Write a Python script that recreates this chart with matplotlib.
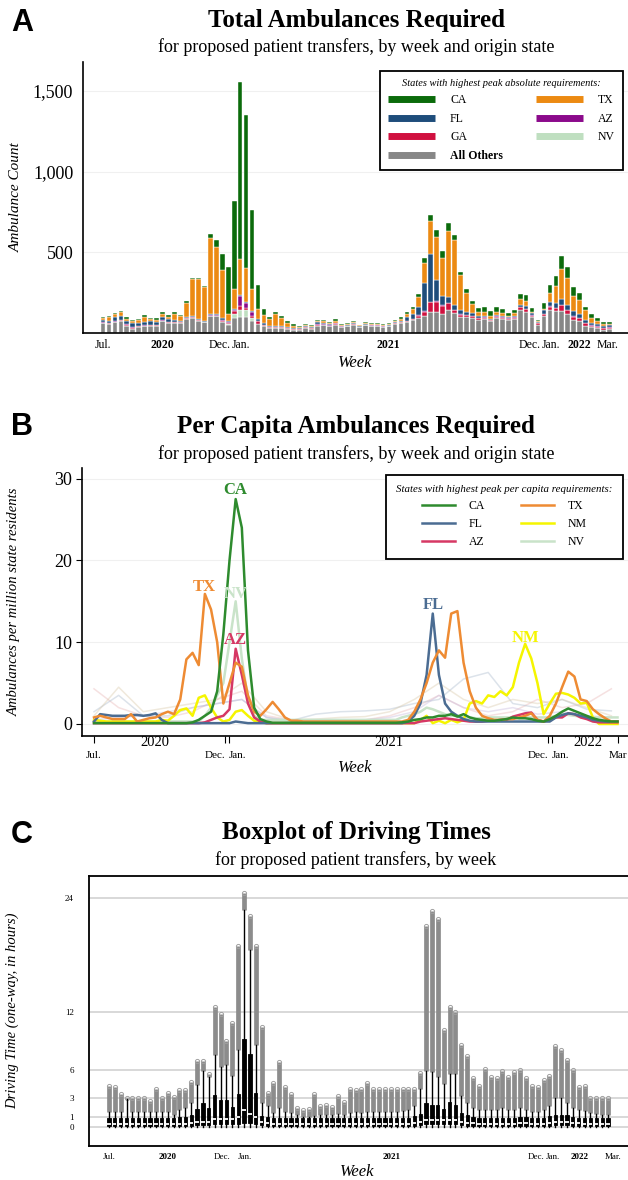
import numpy as np
import matplotlib.pyplot as plt
from matplotlib.lines import Line2D

plt.rcParams['font.family'] = ['Liberation Serif', 'DejaVu Serif']

weeks = np.arange(86)

# ---- panel A: ambulances by week, stacked by origin state ----
others = [60, 58, 66, 77, 46, 27, 37, 41, 46, 46, 72, 62, 62, 64, 87, 93, 75, 66, 104, 104,
          66, 50, 95, 97, 97, 72, 58, 41, 29, 33, 31, 25, 21, 19, 33, 27, 46, 48, 41, 52,
          37, 41, 50, 35, 48, 43, 43, 37, 41, 56, 62, 66, 79, 95, 108, 130, 130, 120, 141, 124,
          97, 97, 95, 83, 87, 72, 93, 87, 83, 87, 145, 130, 97, 52, 108, 141, 135, 135, 120, 83,
          75, 46, 37, 31, 21, 25]
nv = [0, 0, 0, 0, 0, 0, 0, 0, 0, 0, 0, 0, 0, 0, 2, 0, 0, 0, 0, 0,
      3, 5, 25, 48, 43, 21, 0, 0, 0, 0, 0, 0, 0, 0, 0, 0, 0, 0, 0, 0,
      0, 0, 0, 0, 0, 0, 0, 0, 0, 0, 0, 0, 0, 0, 0, 0, 0, 0, 0, 0,
      0, 0, 0, 0, 0, 0, 0, 0, 0, 0, 0, 0, 0, 0, 0, 0, 0, 0, 0, 0,
      0, 0, 0, 0, 0, 0]
ga = [4, 3, 4, 4, 4, 5, 4, 5, 4, 3, 4, 4, 6, 4, 4, 4, 3, 3, 4, 4,
      8, 8, 14, 21, 14, 14, 14, 8, 6, 4, 4, 4, 4, 3, 3, 4, 6, 4, 4, 4,
      3, 3, 4, 3, 2, 3, 3, 3, 3, 4, 4, 6, 6, 12, 24, 60, 62, 50, 43, 18,
      16, 14, 9, 8, 8, 8, 6, 8, 6, 8, 14, 16, 11, 7, 9, 22, 18, 38, 22, 18,
      16, 14, 9, 7, 9, 7]
az = [2, 2, 2, 2, 3, 3, 3, 3, 2, 2, 2, 2, 3, 2, 2, 3, 2, 2, 4, 3,
      5, 6, 10, 66, 35, 21, 3, 2, 3, 2, 2, 2, 2, 2, 2, 2, 5, 4, 4, 3,
      2, 2, 4, 2, 2, 2, 2, 2, 2, 3, 3, 4, 2, 3, 3, 4, 4, 4, 3, 3,
      3, 3, 3, 4, 4, 3, 4, 4, 4, 4, 3, 3, 3, 3, 3, 3, 3, 3, 3, 3,
      3, 3, 3, 3, 3, 3]
fl = [12, 14, 25, 25, 22, 24, 20, 22, 20, 20, 24, 18, 8, 6, 4, 5, 4, 5, 5, 4,
      10, 8, 4, 6, 6, 6, 10, 10, 7, 6, 6, 6, 6, 5, 5, 6, 10, 6, 6, 5,
      3, 5, 6, 4, 2, 4, 4, 4, 4, 4, 7, 21, 33, 54, 172, 298, 135, 58, 39, 27,
      25, 17, 17, 8, 8, 6, 8, 8, 4, 6, 10, 17, 12, 6, 21, 29, 31, 35, 29, 31,
      23, 17, 12, 12, 12, 14]
tx = [15, 20, 22, 20, 14, 14, 14, 28, 14, 12, 18, 16, 40, 30, 90, 230, 248, 212, 470, 417,
      296, 40, 124, 221, 207, 138, 66, 52, 42, 75, 50, 25, 12, 8, 4, 4, 8, 10, 8, 12,
      4, 4, 6, 4, 6, 6, 5, 5, 5, 8, 12, 23, 29, 60, 124, 201, 265, 236, 406, 402,
      217, 118, 58, 27, 25, 18, 17, 16, 10, 16, 41, 35, 6, 4, 10, 54, 103, 188, 168, 93,
      85, 60, 35, 21, 8, 6]
ca = [8, 8, 8, 10, 8, 8, 10, 10, 10, 8, 10, 8, 10, 8, 8, 6, 6, 6, 25, 42,
      100, 292, 544, 1097, 950, 492, 147, 37, 12, 12, 15, 15, 10, 8, 6, 6, 6, 10, 8, 8,
      4, 4, 6, 4, 6, 6, 5, 5, 5, 8, 10, 10, 12, 17, 31, 39, 41, 39, 48, 35,
      21, 21, 17, 25, 29, 27, 35, 27, 17, 21, 29, 33, 25, 10, 35, 48, 66, 77, 68, 58,
      43, 23, 21, 19, 17, 14]

# ---- panel B: per capita ambulances (per million residents) ----
ca_pc = [0.1, 0.1, 0.1, 0.1, 0.1, 0.1, 0.1, 0.1, 0.1, 0.1, 0.1, 0.1, 0.1, 0.1, 0.1, 0.1, 0.2, 0.5, 1.0, 1.5,
         4.0, 11.0, 20.0, 27.5, 24.0, 9.0, 2.0, 0.6, 0.3, 0.15, 0.15, 0.15, 0.15, 0.15, 0.15, 0.15, 0.15, 0.15, 0.15, 0.15,
         0.15, 0.15, 0.15, 0.15, 0.15, 0.15, 0.15, 0.15, 0.15, 0.15, 0.2, 0.3, 0.5, 0.6, 0.8, 0.8, 1.0, 1.0, 1.2, 0.9,
         1.2, 0.8, 0.6, 0.5, 0.4, 0.4, 0.5, 0.6, 0.8, 0.7, 0.7, 0.6, 0.4, 0.3, 0.6, 1.0, 1.5, 1.9, 1.6, 1.3,
         1.0, 0.7, 0.5, 0.4, 0.3, 0.3]
tx_pc = [0.8, 1.0, 0.8, 0.6, 0.6, 0.6, 1.2, 0.3, 0.5, 0.7, 0.8, 1.2, 1.5, 1.2, 3.0, 7.9, 8.7, 7.2, 15.9, 14.0,
         10.0, 2.5, 5.0, 7.5, 7.0, 3.5, 1.5, 1.0, 1.8, 2.7, 1.8, 0.8, 0.4, 0.4, 0.3, 0.3, 0.3, 0.3, 0.3, 0.3,
         0.3, 0.3, 0.3, 0.3, 0.3, 0.3, 0.3, 0.3, 0.3, 0.3, 0.3, 0.5, 1.5, 3.0, 5.0, 7.5, 9.0, 8.1, 13.5, 13.8,
         7.5, 4.0, 2.0, 1.0, 0.7, 0.5, 0.5, 0.6, 0.6, 0.8, 1.0, 1.3, 0.5, 0.3, 1.0, 2.5, 4.5, 6.4, 5.8, 3.0,
         2.8, 1.8, 1.2, 0.7, 0.3, 0.3]
fl_pc = [0.3, 1.2, 1.1, 1.0, 1.0, 1.0, 1.1, 1.1, 1.0, 1.1, 1.3, 0.5, 0.1, 0.1, 0.1, 0.1, 0.1, 0.1, 0.1, 0.1,
         0.1, 0.1, 0.1, 0.3, 0.2, 0.1, 0.1, 0.1, 0.1, 0.1, 0.1, 0.1, 0.1, 0.1, 0.1, 0.1, 0.1, 0.1, 0.1, 0.1,
         0.1, 0.1, 0.1, 0.1, 0.1, 0.1, 0.1, 0.1, 0.1, 0.1, 0.1, 0.3, 1.0, 2.5, 6.0, 13.5, 6.0, 2.5, 1.5, 1.0,
         0.6, 0.4, 0.3, 0.3, 0.3, 0.3, 0.3, 0.3, 0.3, 0.3, 0.3, 0.3, 0.3, 0.3, 0.3, 0.8, 1.1, 1.3, 1.2, 1.0,
         0.8, 0.5, 0.4, 0.3, 0.3, 0.3]
az_pc = [0.1, 0.1, 0.1, 0.1, 0.1, 0.1, 0.1, 0.1, 0.1, 0.1, 0.1, 0.1, 0.1, 0.1, 0.1, 0.1, 0.1, 0.1, 0.2, 0.5,
         0.8, 1.0, 1.8, 9.2, 6.0, 2.5, 0.8, 0.3, 0.1, 0.1, 0.1, 0.1, 0.1, 0.1, 0.1, 0.1, 0.1, 0.1, 0.1, 0.1,
         0.1, 0.1, 0.1, 0.1, 0.1, 0.1, 0.1, 0.1, 0.1, 0.1, 0.1, 0.1, 0.1, 0.3, 0.4, 0.5, 0.6, 0.7, 0.6, 0.5,
         0.4, 0.3, 0.3, 0.3, 0.4, 0.4, 0.5, 0.5, 0.9, 1.1, 1.3, 1.4, 0.5, 0.3, 0.5, 0.8, 0.8, 1.3, 1.2, 0.8,
         0.6, 0.3, 0.2, 0.2, 0.2, 0.2]
nm_pc = [0.5, 0.4, 0.3, 0.3, 0.3, 0.3, 0.3, 0.3, 0.3, 0.3, 0.3, 0.5, 0.4, 1.0, 1.7, 1.9, 1.0, 3.2, 3.5, 2.0,
         0.8, 0.3, 0.5, 1.5, 1.7, 1.0, 0.4, 0.2, 0.1, 0.1, 0.1, 0.1, 0.1, 0.1, 0.1, 0.1, 0.1, 0.1, 0.1, 0.1,
         0.1, 0.1, 0.1, 0.1, 0.1, 0.1, 0.1, 0.1, 0.1, 0.1, 0.1, 0.1, 0.1, 0.5, 1.0, 0.1, 0.4, 0.1, 0.5, 0.2,
         0.5, 2.5, 2.8, 2.5, 3.5, 3.3, 4.0, 3.5, 4.5, 7.5, 9.8, 8.0, 5.0, 1.2, 2.5, 3.7, 3.8, 3.6, 3.2, 2.5,
         2.6, 0.8, 0.0, 0.0, 0.0, 0.0]
nv_pc = [0.3, 0.3, 0.3, 0.3, 0.3, 0.3, 0.3, 0.3, 0.3, 0.3, 0.3, 0.3, 0.3, 0.3, 0.3, 0.3, 0.3, 0.3, 1.0, 2.0,
         3.5, 5.0, 10.0, 15.0, 8.0, 3.0, 1.0, 0.5, 0.5, 0.5, 0.5, 0.5, 0.5, 0.5, 0.5, 0.5, 0.5, 0.5, 0.5, 0.5,
         0.5, 0.5, 0.5, 0.5, 0.5, 0.5, 0.5, 0.5, 0.5, 0.5, 0.8, 1.0, 1.2, 1.5, 2.0, 1.8, 1.5, 1.2, 1.0, 1.0,
         0.8, 0.8, 0.7, 0.7, 0.8, 0.8, 0.8, 0.8, 0.8, 0.8, 0.8, 0.8, 0.8, 0.8, 0.8, 1.0, 1.2, 1.1, 1.0, 0.9,
         0.8, 0.8, 0.8, 0.8, 0.8, 0.8]
# a few of the other states, drawn faintly (read every 4th week)
bg_weeks = [0, 4, 8, 12, 16, 20, 24, 28, 32, 36, 40, 44, 48, 52, 56, 60, 64, 68, 72, 76, 80, 84]
bg_a = [4.3, 2.0, 1.0, 0.8, 1.5, 3.0, 4.0, 1.0, 0.5, 0.3, 0.5, 0.5, 1.0, 2.0, 3.5, 2.0, 1.0, 1.5, 3.0, 2.0, 2.5, 4.3]
bg_b = [1.5, 3.5, 1.0, 1.0, 2.0, 2.5, 3.0, 0.8, 0.4, 1.2, 1.5, 1.6, 1.8, 2.5, 3.0, 5.5, 6.3, 2.5, 2.0, 3.0, 1.8, 1.6]
bg_c = [1.0, 4.5, 1.5, 2.0, 2.5, 3.0, 5.0, 1.5, 0.5, 0.6, 0.8, 0.9, 1.5, 3.0, 5.0, 3.0, 2.0, 3.0, 2.5, 3.0, 2.0, 1.0]
bg_d = [0.5, 0.8, 1.0, 1.5, 2.0, 2.5, 3.0, 0.8, 0.3, 0.3, 0.4, 0.5, 0.8, 1.5, 3.5, 2.0, 1.5, 2.0, 1.2, 1.5, 1.0, 0.8]

# ---- panel C: driving time box stats (hours) ----
q1 = [0.1, 0.1, 0.1, 0.1, 0.1, 0.1, 0.1, 0.1, 0.1, 0.1, 0.1, 0.1, 0.1, 0.1, 0.1, 0.2, 0.2, 0.2, 0.3, 0.3,
      0.3, 0.3, 0.3, 0.4, 0.4, 0.3, 0.2, 0.1, 0.1, 0.1, 0.1, 0.1, 0.1, 0.1, 0.1, 0.1, 0.1, 0.1, 0.1, 0.1,
      0.1, 0.1, 0.1, 0.1, 0.1, 0.1, 0.1, 0.1, 0.1, 0.1, 0.1, 0.1, 0.1, 0.2, 0.3, 0.3, 0.3, 0.3, 0.3, 0.3,
      0.2, 0.1, 0.1, 0.1, 0.1, 0.1, 0.1, 0.1, 0.1, 0.1, 0.1, 0.1, 0.1, 0.1, 0.1, 0.1, 0.2, 0.2, 0.2, 0.1,
      0.1, 0.1, 0.1, 0.1, 0.1, 0.1]
med = [0.35, 0.35, 0.35, 0.35, 0.35, 0.35, 0.35, 0.35, 0.35, 0.35, 0.35, 0.35, 0.35, 0.35, 0.4, 0.5, 0.5, 0.5, 0.8, 0.8,
       0.8, 0.8, 1.0, 1.8, 1.4, 1.0, 0.5, 0.4, 0.35, 0.35, 0.35, 0.35, 0.35, 0.35, 0.35, 0.35, 0.35, 0.35, 0.35, 0.35,
       0.35, 0.35, 0.35, 0.35, 0.35, 0.35, 0.35, 0.35, 0.35, 0.35, 0.35, 0.35, 0.4, 0.5, 0.75, 0.75, 0.75, 0.75, 0.75, 0.75,
       0.5, 0.4, 0.4, 0.35, 0.35, 0.35, 0.35, 0.35, 0.35, 0.35, 0.4, 0.4, 0.35, 0.35, 0.35, 0.4, 0.5, 0.5, 0.5, 0.4,
       0.4, 0.35, 0.35, 0.35, 0.35, 0.35]
q3 = [0.9, 0.9, 0.9, 0.9, 0.9, 0.9, 0.9, 0.9, 0.9, 0.9, 0.9, 0.9, 1.0, 1.0, 1.2, 1.9, 2.5, 2.0, 3.3, 2.8,
      2.8, 2.1, 3.5, 9.2, 7.6, 3.6, 1.1, 1.0, 0.9, 0.9, 0.9, 0.9, 0.9, 0.9, 0.9, 0.9, 0.9, 0.9, 0.9, 0.9,
      0.9, 0.9, 0.9, 0.9, 0.9, 0.9, 0.9, 0.9, 0.9, 0.9, 0.9, 0.9, 1.1, 1.4, 2.5, 2.3, 2.3, 1.9, 2.6, 2.3,
      1.5, 1.2, 1.0, 0.9, 0.9, 0.9, 0.9, 0.9, 0.9, 0.9, 1.0, 1.0, 0.9, 0.9, 0.9, 1.1, 1.3, 1.3, 1.2, 1.0,
      0.9, 0.9, 0.9, 0.9, 0.9, 0.9]
whi = [1.6, 1.6, 1.6, 2.9, 1.6, 1.6, 1.6, 1.6, 1.6, 1.6, 1.6, 1.2, 1.8, 2.0, 2.5, 4.4, 5.9, 5.2, 7.5, 6.3,
       6.5, 5.3, 8.1, 22.7, 18.5, 8.6, 2.5, 2.2, 1.5, 2.0, 1.6, 1.5, 1.2, 1.0, 1.0, 1.1, 1.2, 1.3, 1.2, 1.4,
       1.2, 1.5, 1.6, 1.5, 1.6, 1.6, 1.6, 1.6, 1.6, 1.6, 1.7, 1.8, 2.2, 4.0, 5.9, 5.8, 5.2, 4.5, 5.5, 5.5,
       3.2, 2.5, 2.0, 1.8, 1.8, 1.8, 1.8, 2.0, 1.8, 1.8, 2.0, 1.8, 1.6, 1.6, 1.8, 2.2, 3.0, 3.0, 2.5, 2.0,
       1.8, 1.7, 1.5, 1.4, 1.3, 1.2]
fmax = [4.3, 4.2, 3.4, 3.0, 3.0, 3.0, 3.0, 2.7, 4.0, 3.0, 3.6, 3.1, 3.9, 3.9, 4.7, 6.9, 6.9, 5.5, 12.6, 11.8,
        9.0, 10.9, 19.0, 24.5, 22.1, 19.0, 10.5, 3.6, 4.6, 6.8, 4.2, 3.5, 2.0, 1.8, 1.9, 3.5, 2.2, 2.3, 2.1, 3.2,
        2.6, 4.0, 3.9, 4.0, 4.6, 4.0, 4.0, 4.0, 4.0, 4.0, 4.0, 4.0, 4.0, 5.7, 21.1, 22.6, 21.8, 10.2, 12.6, 12.0,
        8.6, 7.4, 5.1, 4.3, 6.1, 5.2, 5.1, 5.9, 5.2, 5.8, 6.0, 5.1, 4.3, 4.2, 4.9, 5.3, 8.5, 8.1, 7.0, 6.0,
        4.2, 4.3, 3.0, 3.0, 3.0, 3.0]

month_labels_A = ['Jul.', '2020', 'Dec.', 'Jan.', '2021', 'Dec.', 'Jan.', '2022', 'Mar.']
years = ['2020', '2021', '2022']

W, H = 628, 1180
fig = plt.figure(figsize=(W / 100, H / 100), dpi=100)


def box(l, t, r, b):
    return [l / W, 1 - b / H, (r - l) / W, (b - t) / H]


def head(letter, y_letter, title, y_title, sub, y_sub):
    fig.text(22 / W, 1 - y_letter / H, letter, fontsize=22, fontweight='bold',
             family='Liberation Sans', ha='center', va='center')
    fig.text(356 / W, 1 - y_title / H, title, fontsize=18, fontweight='bold', ha='center', va='center')
    fig.text(356 / W, 1 - y_sub / H, sub, fontsize=13, ha='center', va='center')


# ================= A =================
axA = fig.add_axes(box(83, 62, 628, 333))
layers = [(others, '#878787', 'All Others'), (nv, '#bfdfc0', 'NV'), (ga, '#d0103f', 'GA'),
          (az, '#8b0a8b', 'AZ'), (fl, '#1e4d7b', 'FL'), (tx, '#ec8a12', 'TX'), (ca, '#0b6b0b', 'CA')]
bottom = np.zeros(len(weeks))
for vals, col, lab in layers:
    axA.bar(weeks, vals, bottom=bottom, width=0.8, color=col, edgecolor='white', linewidth=0.3)
    bottom += np.array(vals)
axA.set_xlim(-3.36, 88.1)
axA.set_ylim(0, 1680)
axA.set_yticks([500, 1000, 1500])
axA.set_yticklabels(['500', '1,000', '1,500'])
axA.set_xticks([0, 9.9, 19.5, 23.2, 47.8, 71.6, 75.2, 79.9, 84.7])
axA.set_xticklabels(month_labels_A)
for t in axA.get_xticklabels():
    if t.get_text() in years:
        t.set_fontweight('bold')
axA.tick_params(axis='x', length=0, pad=4, labelsize=8.5)
axA.tick_params(axis='y', length=0, pad=7, labelsize=13)
axA.grid(axis='y', color='#f0f0f0', lw=0.8)
axA.set_axisbelow(True)
for s in ['top', 'right']:
    axA.spines[s].set_visible(False)
for s in ['left', 'bottom']:
    axA.spines[s].set_linewidth(1.2)
axA.set_ylabel('Ambulance Count', style='italic', fontsize=11)
axA.yaxis.set_label_coords(-0.11, 0.5)
axA.set_xlabel('Week', style='italic', fontsize=12)
axA.xaxis.set_label_coords(0.5, -0.08)
colA = dict((lab, col) for vals, col, lab in layers)
orderA = ['CA', 'FL', 'GA', 'All Others', 'TX', 'AZ', 'NV']
hA = [Line2D([], [], color=colA[k], lw=5, solid_capstyle='butt') for k in orderA]
legA = axA.legend(hA, orderA, ncol=2, loc='upper right', bbox_to_anchor=(1.002, 0.99),
                  title='States with highest peak absolute requirements:',
                  title_fontproperties={'style': 'italic', 'size': 7.5}, fontsize=8.5,
                  fancybox=False, edgecolor='black', framealpha=1, handlelength=4,
                  handletextpad=1.25, columnspacing=2.8, labelspacing=0.55, borderpad=0.7)
legA.get_frame().set_linewidth(1.3)
for t in legA.get_texts():
    if t.get_text() == 'All Others':
        t.set_fontweight('bold')
head('A', 23, 'Total Ambulances Required', 20,
     'for proposed patient transfers, by week and origin state', 47)

# ================= B =================
axB = fig.add_axes(box(82, 468, 628, 736))
for vals, col in [(bg_a, '#e8b4b4'), (bg_b, '#a9b9cc'), (bg_c, '#d9c8a8'), (bg_d, '#c6b8dc')]:
    axB.plot(bg_weeks, vals, color=col, lw=1.1, alpha=0.4)
lines = [('NV', nv_pc, '#c9e3c9'), ('NM', nm_pc, '#f5f500'), ('AZ', az_pc, '#d63864'),
         ('FL', fl_pc, '#4b6c92'), ('TX', tx_pc, '#ee8b33'), ('CA', ca_pc, '#2e8b2e')]
colB = {}
for lab, vals, col in lines:
    axB.plot(weeks, vals, color=col, lw=1.8)
    colB[lab] = col
for lab, x, y in [('CA', 23, 28.6), ('TX', 17.9, 16.8), ('NV', 23, 15.9), ('AZ', 23, 10.3),
                  ('FL', 55.1, 14.6), ('NM', 70.1, 10.5)]:
    axB.text(x, y, lab, color=colB[lab], fontsize=12, fontweight='bold', ha='center', va='center')
axB.set_xlim(-1.95, 86.7)
axB.set_ylim(-1.47, 31.3)
axB.set_yticks([0, 10, 20, 30])
axB.set_xticks([0, 21.3, 21.9, 73.7, 74.4, 85])
axB.set_xticklabels(['Jul.', 'Dec.', 'Jan.', 'Dec.', 'Jan.', 'Mar'])
for t, ha in zip(axB.get_xticklabels(), ['center', 'right', 'left', 'right', 'left', 'center']):
    t.set_ha(ha)
axB.set_xticks([9.9, 47.9, 80.2], minor=True)
axB.set_xticklabels(years, minor=True)
axB.tick_params(axis='x', which='major', length=5, pad=6, labelsize=8)
axB.tick_params(axis='x', which='minor', length=0, pad=0, labelsize=10.5)
axB.tick_params(axis='y', length=4, pad=3, labelsize=13)
axB.grid(axis='y', color='#f0f0f0', lw=0.8)
axB.set_axisbelow(True)
for s in ['top', 'right']:
    axB.spines[s].set_visible(False)
for s in ['left', 'bottom']:
    axB.spines[s].set_linewidth(1.2)
axB.set_ylabel('Ambulances per million state residents', style='italic', fontsize=10.5)
axB.yaxis.set_label_coords(-0.112, 0.5)
axB.set_xlabel('Week', style='italic', fontsize=12)
axB.xaxis.set_label_coords(0.5, -0.09)
orderB = ['CA', 'FL', 'AZ', 'TX', 'NM', 'NV']
hB = [Line2D([], [], color=colB[k], lw=1.8) for k in orderB]
legB = axB.legend(hB, orderB, ncol=2, loc='upper right', bbox_to_anchor=(1.002, 0.997),
                  title='States with highest peak per capita requirements:',
                  title_fontproperties={'style': 'italic', 'size': 7.8}, fontsize=8.5,
                  fancybox=False, edgecolor='black', framealpha=1, handlelength=2.8,
                  handletextpad=1.2, columnspacing=3.0, labelspacing=0.5, borderpad=0.9)
legB.get_frame().set_linewidth(1.3)
head('B', 427, 'Per Capita Ambulances Required', 426,
     'for proposed patient transfers, by week and origin state', 454)

# ================= C =================
axC = fig.add_axes(box(89, 876, 631, 1146))
axC.vlines(weeks, whi, fmax, color='#8c8c8c', lw=3.4, zorder=2)
axC.plot(weeks, fmax, 'o', ms=3, mfc='none', mec='#a0a0a0', mew=0.7, zorder=2)
stats = [dict(q1=a, med=m, q3=b, whislo=0.0, whishi=w, fliers=[])
         for a, m, b, w in zip(q1, med, q3, whi)]
axC.bxp(stats, positions=weeks, widths=0.55, patch_artist=True, showcaps=False,
        boxprops=dict(facecolor='black', edgecolor='black', lw=0.6),
        medianprops=dict(color='white', lw=1.3),
        whiskerprops=dict(color='black', lw=1.0), manage_ticks=False, zorder=3)
axC.set_xlim(-3.4, 88.9)
axC.set_ylim(-2.0, 26.3)
axC.set_yticks([0, 1, 3, 6, 12, 24])
axC.grid(axis='y', color='#d8d8d8', lw=1.4, zorder=0)
axC.set_axisbelow(True)
axC.set_xticks([0, 10, 19.2, 23.2, 48.2, 72.7, 75.6, 80.2, 85.9])
axC.set_xticklabels(month_labels_A)
for t in axC.get_xticklabels():
    if t.get_text() in years:
        t.set_fontweight('bold')
axC.tick_params(axis='x', length=0, pad=5, labelsize=6.5)
axC.tick_params(axis='y', length=0, pad=11, labelsize=6.5)
for s in axC.spines.values():
    s.set_linewidth(1.3)
axC.set_ylabel('Driving Time (one-way, in hours)', style='italic', fontsize=10.5)
axC.yaxis.set_label_coords(-0.128, 0.5)
axC.set_xlabel('Week', style='italic', fontsize=12)
axC.xaxis.set_label_coords(0.495, -0.068)
head('C', 835, 'Boxplot of Driving Times', 832,
     'for proposed patient transfers, by week', 860)

fig.savefig('out.png', dpi=100)
